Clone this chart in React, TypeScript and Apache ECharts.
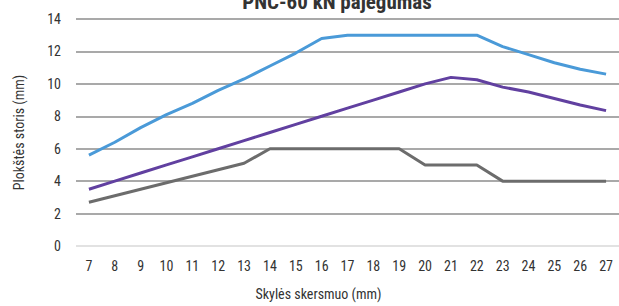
import React, { useEffect, useRef } from "react";
import * as echarts from "echarts";

const categories = ["7","8","9","10","11","12","13","14","15","16","17","18","19","20","21","22","23","24","25","26","27"];
const blueSeries = [5.6, 6.4, 7.3, 8.1, 8.8, 9.6, 10.3, 11.1, 11.9, 12.8, 13, 13, 13, 13, 13, 13, 12.3, 11.8, 11.3, 10.9, 10.6];
const purpleSeries = [3.5, 4.0, 4.5, 5.0, 5.5, 6.0, 6.5, 7.0, 7.5, 8.0, 8.5, 9.0, 9.5, 10.0, 10.4, 10.25, 9.8, 9.5, 9.1, 8.7, 8.35];
const graySeries = [2.7, 3.1, 3.5, 3.9, 4.3, 4.7, 5.1, 6, 6, 6, 6, 6, 6, 5, 5, 5, 4, 4, 4, 4, 4];

const titleText = "PNC-60 kN pajėgumas";
const yTitle = "Plokštės storis (mm)";
const xTitle = "Skylės skersmuo (mm)";

const FONT = "'Liberation Sans Narrow', 'Roboto Condensed', 'DejaVu Sans Condensed', sans-serif";

export default function App() {
  const ref = useRef<HTMLDivElement>(null);
  useEffect(() => {
    if (!ref.current) return;
    const chart = echarts.init(ref.current, null, { renderer: "svg" });
    const line = (data: number[], color: string) => ({
      type: "line",
      data,
      symbol: "none",
      lineStyle: { color, width: 3 },
      itemStyle: { color },
    });
    chart.setOption({
      animation: false,
      title: {
        text: titleText,
        left: 332,
        textAlign: "center",
        top: -14,
        textStyle: { fontFamily: FONT, fontSize: 21, fontWeight: "bold", color: "#333" },
      },
      grid: { left: 76, top: 19, width: 550, height: 228, containLabel: false },
      xAxis: {
        type: "category",
        data: categories,
        boundaryGap: true,
        axisLine: { show: false },
        axisTick: { show: false },
        axisLabel: { color: "#333", fontFamily: FONT, fontSize: 14, margin: 13 },
        name: xTitle,
        nameLocation: "middle",
        nameGap: 41,
        nameTextStyle: { color: "#333", fontFamily: FONT, fontSize: 14, padding: [0, 0, 0, -58] },
      },
      yAxis: {
        type: "value",
        min: 0,
        max: 14,
        interval: 2,
        axisLine: { show: false },
        axisTick: { show: false },
        axisLabel: { color: "#333", fontFamily: FONT, fontSize: 14, margin: 15 },
        splitLine: {
          lineStyle: {
            color: ["#d9d9d9", "#8c8c8c", "#8c8c8c", "#8c8c8c", "#8c8c8c", "#8c8c8c", "#8c8c8c", "#8c8c8c"],
            width: 1.5,
          },
        },
        name: yTitle,
        nameLocation: "middle",
        nameGap: 50,
        nameTextStyle: { color: "#333", fontFamily: FONT, fontSize: 14 },
      },
      series: [
        line(blueSeries, "#4a9ad8"),
        line(purpleSeries, "#6140a0"),
        line(graySeries, "#6c6c6c"),
      ],
    });
    return () => chart.dispose();
  }, []);
  return <div ref={ref} style={{ width: 619, height: 306, position: "absolute", left: 0, top: 0 }} />;
}
